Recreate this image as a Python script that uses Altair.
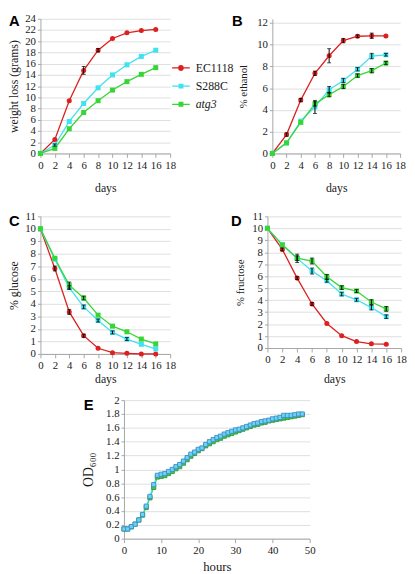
import altair as alt
import pandas as pd

# ---------------- data ----------------
days = [0, 2, 4, 6, 8, 10, 12, 14, 16]
strains = ["EC1118", "S288C", "atg3"]
strain_colors = ["#dc1f1f", "#3fe2f0", "#37d637"]

weight_ec1118 = [0, 2.5, 9.4, 14.8, 18.4, 20.5, 21.5, 21.9, 22.1]
weight_s288c = [0, 1.5, 5.7, 8.9, 11.7, 14.0, 15.8, 17.3, 18.4]
weight_atg3 = [0, 0.9, 4.4, 7.3, 9.4, 11.3, 12.8, 14.1, 15.3]
weight_err_ec1118 = [0, 0, 0, 0.7, 0.3, 0, 0, 0, 0]
weight_err_s288c = [0, 0.2, 0, 0, 0, 0, 0, 0, 0]
weight_err_atg3 = [0, 0, 0, 0, 0, 0, 0, 0, 0]

ethanol_ec1118 = [0, 1.73, 4.9, 7.36, 8.97, 10.36, 10.76, 10.8, 10.79]
ethanol_s288c = [0, 0.97, 2.97, 4.27, 5.85, 6.7, 7.73, 8.94, 9.06]
ethanol_atg3 = [0, 0.97, 2.85, 4.55, 5.4, 6.15, 7.15, 7.6, 8.3]
ethanol_err_ec1118 = [0, 0.15, 0.15, 0.2, 0.65, 0.2, 0.12, 0.25, 0]
ethanol_err_s288c = [0, 0, 0, 0.6, 0.3, 0.2, 0.15, 0.25, 0.12]
ethanol_err_atg3 = [0, 0, 0, 0.2, 0.2, 0.2, 0.15, 0.2, 0.15]

glucose_ec1118 = [10, 6.83, 3.36, 1.46, 0.45, 0.1, 0.05, 0, 0]
glucose_s288c = [10, 7.57, 5.3, 3.76, 2.67, 1.72, 1.19, 0.77, 0.4]
glucose_atg3 = [10, 7.65, 5.5, 4.47, 3.1, 2.22, 1.77, 1.19, 0.8]
glucose_err_ec1118 = [0, 0.2, 0.2, 0.12, 0, 0, 0, 0, 0]
glucose_err_s288c = [0, 0, 0.15, 0.15, 0.12, 0.12, 0.12, 0, 0]
glucose_err_atg3 = [0, 0, 0.25, 0.15, 0, 0, 0, 0, 0]

fructose_ec1118 = [10, 8.24, 5.84, 3.68, 2.05, 1.03, 0.54, 0.35, 0.32]
fructose_s288c = [10, 8.62, 7.49, 6.43, 5.62, 4.51, 4.03, 3.38, 2.62]
fructose_atg3 = [10, 8.62, 7.5, 7.27, 5.95, 5.05, 4.76, 3.84, 3.27]
fructose_err_ec1118 = [0, 0.12, 0.12, 0.12, 0, 0, 0, 0, 0]
fructose_err_s288c = [0, 0, 0.35, 0.25, 0.12, 0.15, 0.12, 0.2, 0.15]
fructose_err_atg3 = [0, 0, 0.2, 0.25, 0.2, 0.15, 0.12, 0.2, 0.2]

hours = [0, 1, 2, 3, 4, 5, 6, 7, 8, 9, 10, 11, 12, 13, 14, 15, 16, 17, 18, 19,
         20, 21, 22, 23, 24, 25, 26, 27, 28, 29, 30, 31, 32, 33, 34, 35, 36, 37,
         38, 39, 40, 41, 42, 43, 44, 45, 46, 47, 48]
od_s288c = [0.14, 0.14, 0.175, 0.21, 0.27, 0.35, 0.47, 0.61, 0.78, 0.915,
            0.93, 0.94, 0.97, 1.0, 1.04, 1.07, 1.12, 1.17, 1.22, 1.25,
            1.29, 1.31, 1.36, 1.4, 1.43, 1.46, 1.48, 1.51, 1.53, 1.55,
            1.57, 1.58, 1.6, 1.62, 1.64, 1.66, 1.67, 1.69, 1.7, 1.71,
            1.73, 1.74, 1.75, 1.78, 1.78, 1.78, 1.79, 1.8, 1.8]
od_atg3 = [0.14, 0.14, 0.17, 0.21, 0.27, 0.34, 0.45, 0.59, 0.74, 0.89,
           0.9, 0.91, 0.94, 0.97, 1.01, 1.04, 1.09, 1.14, 1.19, 1.23,
           1.27, 1.3, 1.34, 1.37, 1.4, 1.43, 1.45, 1.48, 1.5, 1.52,
           1.54, 1.56, 1.58, 1.6, 1.62, 1.64, 1.65, 1.67, 1.68, 1.7,
           1.71, 1.72, 1.73, 1.74, 1.75, 1.76, 1.77, 1.78, 1.79]
od_strains = ["atg3", "S288C"]
od_fill = ["#45c445", "#6dd3f2"]
od_stroke = ["#2f9a3f", "#3c8fc9"]
od_line = ["#3f8a5a", "#4a7fc0"]

day_ticks = [0, 2, 4, 6, 8, 10, 12, 14, 16, 18]
weight_ticks = [0, 2, 4, 6, 8, 10, 12, 14, 16, 18, 20, 22, 24]
ethanol_ticks = [0, 2, 4, 6, 8, 10, 12]
sugar_ticks = [0, 1, 2, 3, 4, 5, 6, 7, 8, 9, 10, 11]
hour_ticks = [0, 10, 20, 30, 40, 50]
od_ticks = [0, 0.2, 0.4, 0.6, 0.8, 1.0, 1.2, 1.4, 1.6, 1.8, 2.0]

FONT = "Liberation Serif"
LETTER_FONT = "Liberation Sans"
AX = "#a6a6a6"
TXT = "#1a1a1a"

# legend symbols: line with marker
legend_paths = [
    "M-1.2,0A1.2,1.2,0,1,1,1.2,0A1.2,1.2,0,1,1,-1.2,0Z"
    "M-3.6,-0.25H-1.2V0.25H-3.6Z M1.2,-0.25H3.6V0.25H1.2Z",
    "M-1,-1H1V1H-1Z M-3.6,-0.25H-1V0.25H-3.6Z M1,-0.25H3.6V0.25H1Z",
    "M-1,-1H1V1H-1Z M-3.6,-0.25H-1V0.25H-3.6Z M1,-0.25H3.6V0.25H1Z",
]


def build_df(series_vals, series_errs):
    rows = []
    for s, vals, errs in zip(strains, series_vals, series_errs):
        for d, v, e in zip(days, vals, errs):
            rows.append(dict(day=d, strain=s, value=v, lo=v - e, hi=v + e, err=e))
    return pd.DataFrame(rows)


def letter_title(letter, dx, dy):
    return alt.TitleParams(letter, anchor="start", orient="top", frame="group",
                           offset=0, dx=dx, dy=dy, baseline="top",
                           font=LETTER_FONT, fontSize=15, fontWeight="bold",
                           color="#000000")


def panel(df, ytitle, yticks, ymax, w, h, letter, ldx, ldy,
          ytitle_pad, xtitle_pad, legend=False, ytitle_size=12):
    xaxis = alt.Axis(values=day_ticks, title="days", grid=False,
                     labelFont=FONT, labelFontSize=11, labelColor=TXT,
                     labelFlush=False, labelOverlap=False, labelPadding=2,
                     titleFont=FONT, titleFontSize=12, titleFontWeight="normal",
                     titleColor=TXT, titlePadding=xtitle_pad,
                     domainColor=AX, tickColor=AX, tickSize=4)
    yaxis = alt.Axis(values=yticks, title=ytitle, grid=True, gridColor="#dedede",
                     labelFont=FONT, labelFontSize=11, labelColor=TXT,
                     labelFlush=False, labelOverlap=False, labelPadding=2,
                     titleFont=FONT, titleFontSize=ytitle_size, titleFontWeight="normal",
                     titleColor=TXT, titlePadding=ytitle_pad,
                     domainColor=AX, tickColor=AX, tickSize=3)
    xs = alt.Scale(domain=[0, 18], nice=False)
    ys = alt.Scale(domain=[0, ymax], nice=False, zero=False)

    def X(f):
        return alt.X(f"{f}:Q", scale=xs, axis=xaxis)

    def Y(f):
        return alt.Y(f"{f}:Q", scale=ys, axis=yaxis)

    cscale = alt.Scale(domain=strains, range=strain_colors)
    base = alt.Chart(df)
    lines = base.mark_line(strokeWidth=1.3).encode(
        x=X("day"), y=Y("value"),
        color=alt.Color("strain:N", scale=cscale, legend=None))
    pts = base.mark_point(filled=True, opacity=1, size=26).encode(
        x=X("day"), y=Y("value"),
        color=alt.Color("strain:N", scale=cscale, legend=None),
        shape=alt.Shape("strain:N", scale=alt.Scale(domain=strains, range=["circle", "square", "square"]), legend=None))
    eb = base.transform_filter("datum.err > 0")
    bars = eb.mark_rule(color="black", strokeWidth=1).encode(x=X("day"), y=Y("lo"), y2="hi:Q")
    cap_lo = eb.mark_tick(color="black", orient="horizontal", size=4, thickness=1).encode(x=X("day"), y=Y("lo"))
    cap_hi = eb.mark_tick(color="black", orient="horizontal", size=4, thickness=1).encode(x=X("day"), y=Y("hi"))
    layers = [lines, pts, bars, cap_lo, cap_hi]
    if legend:
        leg = alt.Legend(title=None, orient="none", legendX=137, legendY=44,
                         labelFont=FONT, labelFontSize=12, labelColor=TXT,
                         labelFontStyle={"expr": "datum.label == 'atg3' ? 'italic' : 'normal'"},
                         symbolSize=25, symbolStrokeWidth=0, labelOffset=9,
                         rowPadding=6.5)
        legend_layer = base.transform_filter("false").mark_point(filled=True, opacity=1).encode(
            x=X("day"), y=Y("value"),
            color=alt.Color("strain:N", scale=cscale, legend=leg),
            shape=alt.Shape("strain:N", scale=alt.Scale(domain=strains, range=legend_paths), legend=leg))
        layers.append(legend_layer)
    ch = alt.layer(*layers).properties(width=w, height=h, title=letter_title(letter, ldx, ldy))
    if legend:
        ch = ch.resolve_scale(color="independent", shape="independent")
    return ch


dfA = build_df([weight_ec1118, weight_s288c, weight_atg3],
               [weight_err_ec1118, weight_err_s288c, weight_err_atg3])
dfB = build_df([ethanol_ec1118, ethanol_s288c, ethanol_atg3],
               [ethanol_err_ec1118, ethanol_err_s288c, ethanol_err_atg3])
dfC = build_df([glucose_ec1118, glucose_s288c, glucose_atg3],
               [glucose_err_ec1118, glucose_err_s288c, glucose_err_atg3])
dfD = build_df([fructose_ec1118, fructose_s288c, fructose_atg3],
               [fructose_err_ec1118, fructose_err_s288c, fructose_err_atg3])

A = panel(dfA, "weight loss (grams)", weight_ticks, 24, 132, 137, "A", -32, 16.5, 4, 13, legend=True)
B = panel(dfB, "% ethanol", ethanol_ticks, 12 * 137 / 133, 130, 137, "B", -41, 12.5, 8, 13, ytitle_size=11)
C = panel(dfC, "% glucose", sugar_ticks, 11, 132, 140, "C", -32, 18.5, 4, 3)
D = panel(dfD, "% fructose", sugar_ticks, 11, 136, 134, "D", -37, 18.5, 6, 9, ytitle_size=11)

# panel E
rows = []
for s, vals in zip(od_strains, [od_atg3, od_s288c]):
    for hr, v in zip(hours, vals):
        rows.append(dict(hour=hr, strain=s, od=v))
dfE = pd.DataFrame(rows)

exaxis = alt.Axis(values=hour_ticks, title="hours", grid=False,
                  labelFont=FONT, labelFontSize=11, labelColor=TXT,
                  labelFlush=False, labelOverlap=False, labelPadding=2,
                  titleFont=FONT, titleFontSize=13, titleFontWeight="normal",
                  titleColor=TXT, titlePadding=5,
                  domainColor=AX, tickColor=AX, tickSize=4)
eyaxis = alt.Axis(values=od_ticks, title="OD₆₀₀", grid=True, gridColor="#dedede",
                  format=".1~f",
                  labelFont=FONT, labelFontSize=11, labelColor=TXT,
                  labelFlush=False, labelOverlap=False, labelPadding=2,
                  titleFont=FONT, titleFontSize=14, titleFontWeight="normal",
                  titleColor=TXT, titlePadding=10,
                  domainColor=AX, tickColor=AX, tickSize=3)
ex = alt.X("hour:Q", scale=alt.Scale(domain=[0, 50], nice=False), axis=exaxis)
ey = alt.Y("od:Q", scale=alt.Scale(domain=[0, 2], nice=False, zero=False), axis=eyaxis)
baseE = alt.Chart(dfE)
e_lines = baseE.mark_line(strokeWidth=1.2).encode(
    x=ex, y=ey,
    color=alt.Color("strain:N", scale=alt.Scale(domain=od_strains, range=od_line), legend=None))
e_pts = baseE.mark_point(shape="square", filled=True, size=18, strokeWidth=0.9, opacity=1).encode(
    x=ex, y=ey,
    fill=alt.Fill("strain:N", scale=alt.Scale(domain=od_strains, range=od_fill), legend=None),
    stroke=alt.Stroke("strain:N", scale=alt.Scale(domain=od_strains, range=od_stroke), legend=None))
E = alt.layer(e_lines, e_pts).properties(width=189, height=141, title=letter_title("E", -41, 19.5))

# ---------------- layout ----------------
spacer_df = pd.DataFrame({"a": [0]})


def spacer(w, h):
    return alt.Chart(spacer_df).mark_point(opacity=0, size=1).encode(
        x=alt.value(0), y=alt.value(0)).properties(width=w, height=h)


row1 = alt.hconcat(A, B, spacing=104, bounds="flush")
row2 = alt.hconcat(C, D, spacing=99, bounds="flush")
row3 = alt.hconcat(spacer(1, 1), E, spacing=84, bounds="flush")

chart = alt.vconcat(row1, spacer(1, 201), row2, spacer(1, 187), row3,
                    spacing=0, bounds="flush").properties(padding=0).configure_view(stroke=None)

chart.save("out.html", embed_options={"renderer": "svg", "actions": False})
